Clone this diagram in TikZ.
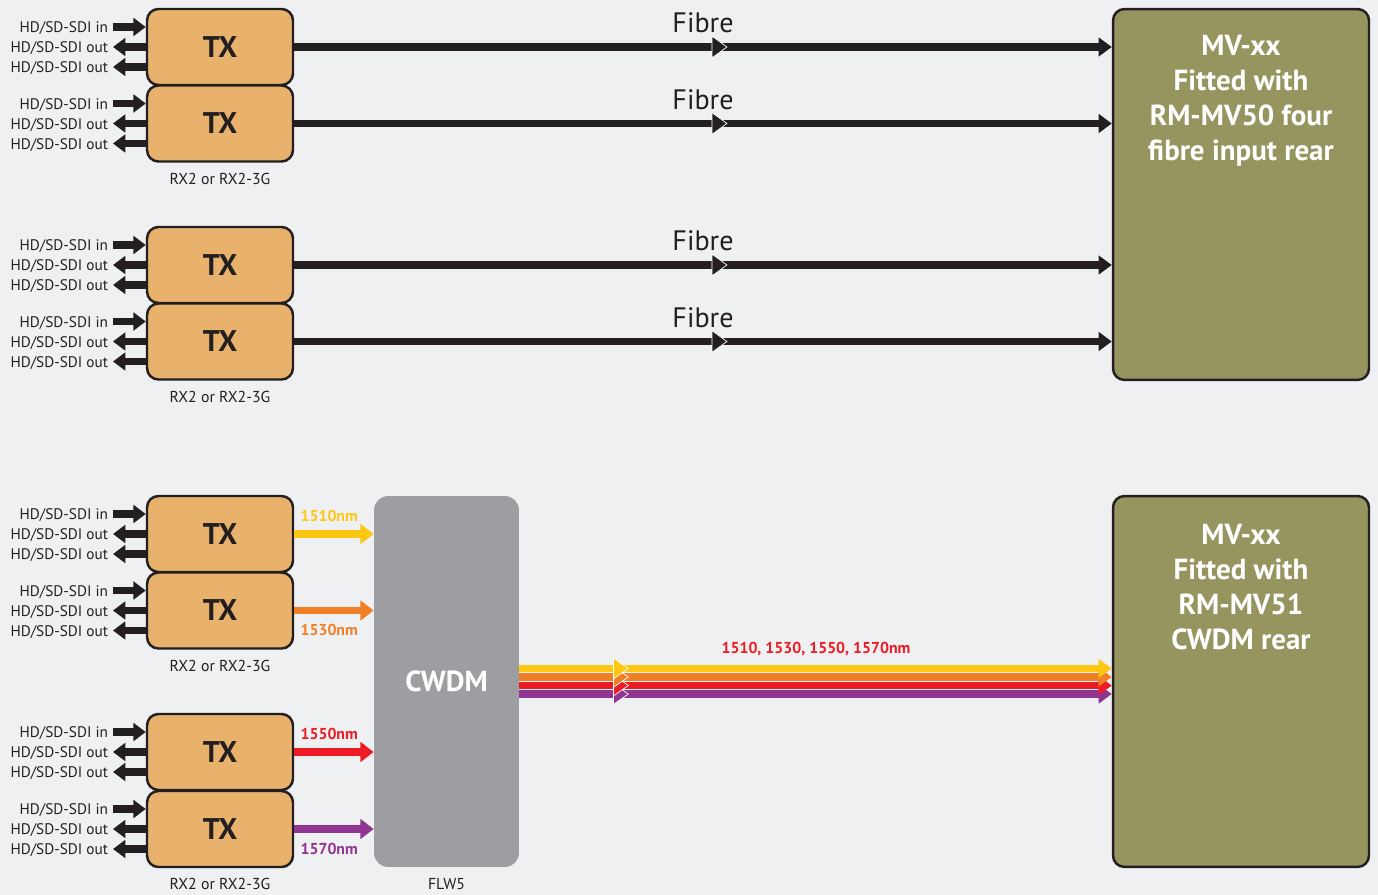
\documentclass[tikz,border=0pt]{standalone}
\usepackage{fontspec}
\setmainfont{PT Sans}
\usetikzlibrary{positioning,arrows.meta,decorations.markings}

\definecolor{bg}{HTML}{EFF0F2}
\definecolor{ink}{HTML}{231F20}
\definecolor{txfill}{HTML}{E8B26D}
\definecolor{mvfill}{HTML}{97955F}
\definecolor{cwdmfill}{HTML}{9D9EA1}
\definecolor{lyel}{HTML}{FDC713}
\definecolor{lora}{HTML}{F07F26}
\definecolor{lred}{HTML}{ED1C24}
\definecolor{lpur}{HTML}{903590}

\tikzset{
  txbox/.style={draw=ink,line width=1.4pt,fill=txfill,rounded corners=6.5pt,
    minimum width=2.92cm,minimum height=1.52cm,inner sep=0pt,
    text=ink,font=\fontsize{17}{17}\selectfont\bfseries},
  mvbox/.style={draw=ink,line width=1.4pt,fill=mvfill,rounded corners=6.5pt,
    minimum width=5.12cm,minimum height=7.42cm},
  mvtext/.style={inner sep=0pt,text=white,align=center,
    font=\fontsize{16.5}{19.9}\selectfont\bfseries},
  cwdmbox/.style={fill=cwdmfill,rounded corners=8pt,minimum width=2.9cm,
    minimum height=7.42cm,text=white,font=\fontsize{16.5}{16.5}\selectfont\bfseries},
  sdilabel/.style={anchor=east,inner xsep=2.6pt,inner ysep=0pt,text=ink,
    text height=6.5pt,text depth=0pt,font=\fontsize{8.7}{8.7}\selectfont},
  caption/.style={inner sep=0pt,text=ink,font=\fontsize{9}{9}\selectfont},
  sdi/.style={draw=ink,line width=4.3pt},
  fibre/.style={draw=ink,line width=4pt,-{Triangle[length=7.5pt,width=10.5pt]},
    postaction={decorate},decoration={markings,mark=at position 0.53 with
      {\arrow{Triangle[length=9pt,width=13pt,fill=ink,color=white,line width=0.4pt]}}}},
  fibrelabel/.style={above=6pt,inner sep=0pt,text=ink,font=\fontsize{16}{16}\selectfont},
  wave/.style={draw=#1,line width=4.3pt,-{Triangle[length=7.5pt,width=11pt]}},
  wavelabel/.style={inner sep=0pt,text=#1,font=\fontsize{9}{9}\selectfont\bfseries},
  stripe/.style={draw=#1,line width=4.2pt,-{Triangle[length=7.5pt,width=10.5pt]},
    postaction={decorate},decoration={markings,mark=at position 0.185 with
      {\arrow{Triangle[length=9pt,width=12.5pt,fill=#1,color=white,line width=0.4pt]}}}},
}

\begin{document}
\begin{tikzpicture}[x=0.02cm,y=-0.02cm,>={Triangle[length=7pt,width=10pt]}]
  \fill[bg] (0,0) rectangle (1378,895);

  % multiviewers
  \node[mvbox] (mv1) at (1241,194.5) {};
  \node[mvbox] (mv2) at (1241,681.5) {};
  \node[mvtext,below=0.55cm of mv1.north] (mv1t) {MV-xx\\Fitted with\\RM-MV50 four\\fibre input rear};
  \node[mvtext,below=0.58cm of mv2.north] (mv2t) {MV-xx\\Fitted with\\RM-MV51\\CWDM rear};

  % mux
  \node[cwdmbox] (cwdm) at (446.5,681.5) {CWDM};
  \node[caption,below=0.22cm of cwdm] (flw) {FLW5};

  % transmitters with their SDI ports
  \foreach \n/\y in {1/47,2/123.5,3/265,4/341.5,5/534,6/610.5,7/752,8/829}{
    \node[txbox] (tx\n) at (220,\y) {TX};
    \node[sdilabel] (in\n) at (113,\y-20) {HD/SD-SDI in};
    \node[sdilabel] (outa\n) at (113,\y) {HD/SD-SDI out};
    \node[sdilabel] (outb\n) at (113,\y+20) {HD/SD-SDI out};
    \draw[sdi,->] (in\n.east) -- (in\n.east -| tx\n.west);
    \draw[sdi,<-] (outa\n.east) -- (outa\n.east -| tx\n.west);
    \draw[sdi,<-] (outb\n.east) -- (outb\n.east -| tx\n.west);
  }
  \foreach \n in {2,4,6,8}
    \node[caption,below=0.2cm of tx\n] (rx\n) {RX2 or RX2-3G};

  % direct fibres
  \foreach \n in {1,2,3,4}
    \draw[fibre] (tx\n.east) -- node[fibrelabel] {Fibre} (tx\n.east -| mv1.west);

  % coloured wavelengths into the mux
  \draw[wave=lyel] (tx5.east) -- node[wavelabel=lyel,pos=0,anchor=south west,xshift=1.5pt,yshift=5pt] {1510nm} (tx5.east -| cwdm.west);
  \draw[wave=lora] (tx6.east) -- node[wavelabel=lora,pos=0,anchor=north west,xshift=1.5pt,yshift=-5.5pt] {1530nm} (tx6.east -| cwdm.west);
  \draw[wave=lred] (tx7.east) -- node[wavelabel=lred,pos=0,anchor=south west,xshift=1.5pt,yshift=5pt] {1550nm} (tx7.east -| cwdm.west);
  \draw[wave=lpur] (tx8.east) -- node[wavelabel=lpur,pos=0,anchor=north west,xshift=1.5pt,yshift=-6pt] {1570nm} (tx8.east -| cwdm.west);

  % combined link
  \foreach \c/\y in {lpur/694,lred/685.5,lora/677,lyel/668.5}
    \draw[stripe=\c] (cwdm.east |- 0,\y) -- (mv2.west |- 0,\y);
  \node[wavelabel=lred] (lambdas) at (816,649) {1510, 1530, 1550, 1570nm};
\end{tikzpicture}
\end{document}
